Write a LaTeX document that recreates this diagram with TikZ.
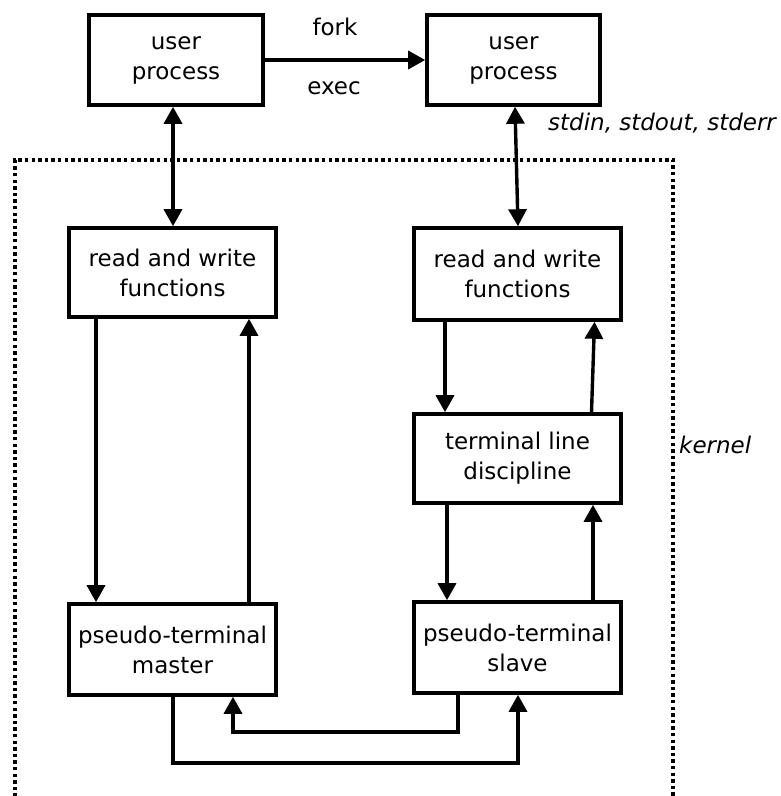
\documentclass[tikz,border=0pt]{standalone}
\usepackage{fontspec}
\setmainfont{DejaVu Sans}
\usetikzlibrary{arrows.meta}
\begin{document}
\begin{tikzpicture}[x=1pt,y=-1pt,
  box/.style={draw,line width=3.6pt,inner sep=0pt,align=center,
    font=\fontsize{23}{30}\selectfont},
  lbl/.style={inner sep=0pt,font=\fontsize{23}{30}\selectfont},
  tip/.style={},
  arr/.style={line width=3.4pt,-{Triangle[length=17pt,width=18pt]}},
  darr/.style={line width=3.4pt,{Triangle[length=17pt,width=18pt]}-{Triangle[length=17pt,width=18pt]}},
  kern/.style={line width=3.4pt,dash pattern=on 3.4pt off 3.2pt}]
\fill[white] (0,0) rectangle (780,796);
\useasboundingbox (0,0) rectangle (780,796);
\clip (0,0) rectangle (780,796);
% kernel boundary
\draw[kern] (15,810) -- (15,160) -- (673,160) -- (673,810);
% boxes
\node[box,minimum width=174pt,minimum height=90pt] (up1) at (176,60) {user\\process};
\node[box,minimum width=173pt,minimum height=90pt] (up2) at (513.5,60) {user\\process};
\node[box,minimum width=207pt,minimum height=89pt] (rw1) at (172.5,272.5) {read and write\\functions};
\node[box,minimum width=207pt,minimum height=92pt] (rw2) at (517.5,274) {read and write\\functions};
\node[box,minimum width=207pt,minimum height=89pt] (tld) at (517.5,458.5) {terminal line\\discipline};
\node[box,minimum width=207pt,minimum height=91pt] (ptm) at (172.5,649.5) {pseudo-terminal\\master};
\node[box,minimum width=207pt,minimum height=91pt] (pts) at (517.5,647.5) {pseudo-terminal\\slave};
% labels
\node[lbl] (fork) at (335,27) {fork};
\node[lbl] (exec) at (334,88) {exec};
\node[lbl,anchor=west] (std) at (548,123) {\itshape stdin, stdout, stderr};
\node[lbl,anchor=west] (kernel) at (679,445) {\itshape kernel};
% connectors
\draw[arr] (up1.east) -- (up2.west);
\draw[darr] ([xshift=-3pt]up1.south) -- ([xshift=0.5pt]rw1.north);
\draw[darr] ([xshift=1.5pt]up2.south) -- ([xshift=0.5pt]rw2.north);
\draw[arr] ([xshift=-76.5pt]rw1.south) -- ([xshift=-76.5pt]ptm.north);
\draw[arr] ([xshift=76.5pt]ptm.north) -- ([xshift=76.5pt]rw1.south);
\draw[arr] ([xshift=-72.5pt]rw2.south) -- ([xshift=-72.5pt]tld.north);
\draw[arr] ([xshift=74pt]tld.north) -- ([xshift=77pt]rw2.south);
\draw[arr] ([xshift=-70.5pt]tld.south) -- ([xshift=-70.5pt]pts.north);
\draw[arr] ([xshift=75.5pt]pts.north) -- ([xshift=75.5pt]tld.south);
\draw[arr] ([xshift=-59.5pt]pts.south) -- ++(0,37) -| ([xshift=60.5pt]ptm.south);
\draw[arr] ([xshift=0.5pt]ptm.south) -- ++(0,66) -| ([xshift=0.5pt]pts.south);
\end{tikzpicture}
\end{document}
